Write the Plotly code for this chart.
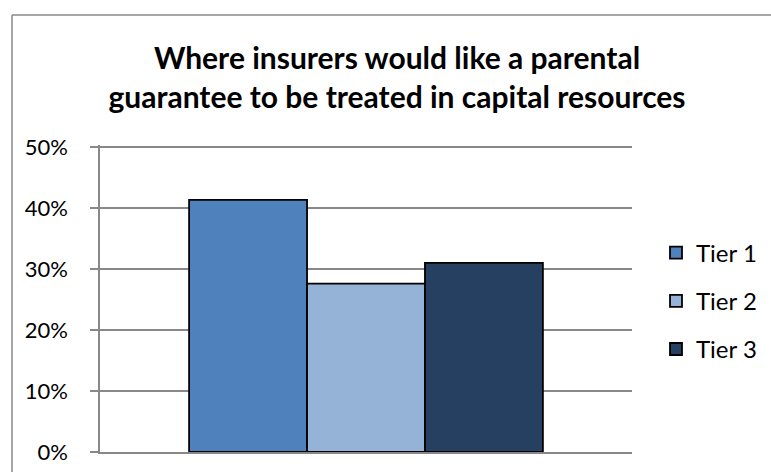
import plotly.graph_objects as go

categories = [""]
series_names = ["Tier 1", "Tier 2", "Tier 3"]
series_values = [[0.413], [0.276], [0.310]]
series_colors = ["#4F81BD", "#95B3D7", "#254061"]
tick_values = [0, 0.1, 0.2, 0.3, 0.4, 0.5]
tick_labels = ["0%", "10%", "20%", "30%", "40%", "50%"]
title_text = "Where insurers would like a parental<br>guarantee to be treated in capital resources"

W, H = 771, 472
L, R, T, B = 100, 632, 145, 452
YMAX = 0.503

fig = go.Figure()
for name, vals, col in zip(series_names, series_values, series_colors):
    fig.add_trace(go.Bar(
        x=categories, y=vals, name=name, legendgroup=name,
        marker=dict(color=col, line=dict(color="#000000", width=1.8)),
    ))

def px_x(p):
    return (p - L) / (R - L)

def px_y(p):
    return (B - p) / (B - T)

fig.update_layout(
    width=W, height=H,
    margin=dict(l=L, r=W - R, t=T, b=H - B, pad=0, autoexpand=False),
    paper_bgcolor="white", plot_bgcolor="white",
    barmode="group", bargap=0.335, bargroupgap=0,
    font=dict(family="Lato, Carlito, sans-serif", color="#000000"),
    title=dict(text=title_text, x=397 / W, xanchor="center", xref="container",
               y=1 - 69 / H, yanchor="middle", yref="container",
               font=dict(size=30, family="Lato, Carlito, sans-serif", color="#000000", weight="bold")),
    showlegend=True,
    legend=dict(x=px_x(656), xanchor="left", y=px_y(301), yanchor="middle",
                font=dict(size=24), tracegroupgap=14, bgcolor="rgba(0,0,0,0)",
                itemclick=False),
    xaxis=dict(showticklabels=False, showline=True, linecolor="#888888", linewidth=1.5,
               ticks="", showgrid=False, zeroline=False, fixedrange=True),
    yaxis=dict(range=[0, YMAX], tickvals=tick_values, ticktext=tick_labels,
               showline=True, linecolor="#888888", linewidth=1.5,
               ticks="outside", ticklen=8, tickcolor="#888888", tickwidth=1.5,
               showgrid=True, gridcolor="#888888", gridwidth=1.5, zeroline=False,
               tickfont=dict(size=22), ticklabelstandoff=18, ticklabeloverflow="allow",
               fixedrange=True),
    shapes=[
        dict(type="line", xref="paper", yref="paper",
             x0=px_x(12), x1=px_x(W), y0=px_y(15), y1=px_y(15),
             line=dict(color="#888888", width=1.5)),
        dict(type="line", xref="paper", yref="paper",
             x0=px_x(12), x1=px_x(12), y0=px_y(15), y1=px_y(H),
             line=dict(color="#888888", width=1.5)),
    ],
)

# Remove the default 8px page margin so the figure fills the window exactly.
fig.write_html("out.html",
               config={"displayModeBar": False},
               post_script="document.body.style.margin='0';document.body.style.overflow='hidden';")
